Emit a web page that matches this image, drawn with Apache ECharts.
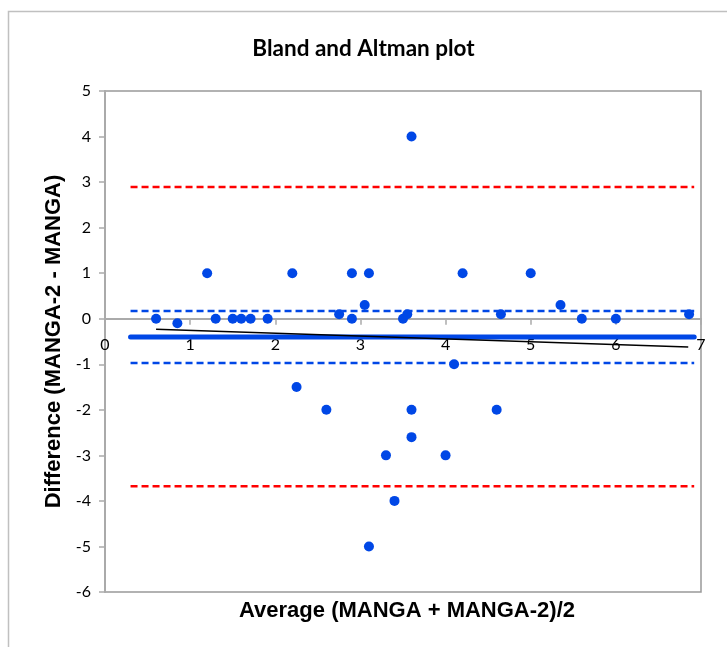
<!DOCTYPE html>
<html><head><meta charset="utf-8">
<script src="https://cdn.jsdelivr.net/npm/echarts@6/dist/echarts.min.js"></script>
<style>html,body{margin:0;padding:0;background:#fff}#c{width:727px;height:647px}</style>
</head><body><div id="c"></div>
<script>
// Data
const avgValues  = [0.6, 0.85, 1.2, 1.3, 1.5, 1.6, 1.71, 1.91, 2.2, 2.25, 2.6, 2.75, 2.9, 2.9, 3.05, 3.1, 3.1, 3.3, 3.4, 3.5, 3.55, 3.6, 3.6, 3.6, 4.0, 4.1, 4.2, 4.6, 4.65, 5.0, 5.35, 5.6, 6.0, 6.86];
const diffValues = [0, -0.1, 1, 0, 0, 0, 0, 0, 1, -1.5, -2, 0.1, 0, 1, 0.3, 1, -5, -3, -4, 0, 0.1, 4, -2, -2.6, -3, -1, 1, -2, 0.1, 1, 0.3, 0, 0, 0.1];
const lineXRange = [0.3, 6.92];
const meanDiff = -0.4;
const upperLoA = 2.89;
const lowerLoA = -3.68;
const upperCI = 0.17;
const lowerCI = -0.97;
const regressionX = [0.6, 6.85];
const regressionY = [-0.23, -0.62];
const xTicks = [0, 1, 2, 3, 4, 5, 6, 7];
const yTicks = [-6, -5, -4, -3, -2, -1, 0, 1, 2, 3, 4, 5];

const blue = '#0047e6';
const red = '#ff0000';
const hline = v => lineXRange.map(x => [x, v]);

const gridTop = 91, gridBottom = 55, H = 647;
const plotH = H - gridTop - gridBottom;
const yMin = yTicks[0], yMax = yTicks[yTicks.length - 1];
// distance from the bottom of the plot to the y=0 level, so the x axis sits at zero
const zeroOffset = -plotH * (0 - yMin) / (yMax - yMin);

const chart = echarts.init(document.getElementById('c'));
chart.setOption({
  animation: false,
  backgroundColor: '#fff',
  graphic: [{
    type: 'rect', left: 6, top: 9, shape: {x: 0, y: 0, width: 800, height: 700},
    style: {fill: 'none', stroke: '#c0c0c0', lineWidth: 1.5}, z: -10
  }],
  title: [{
    text: 'Bland and Altman plot', left: 'center', top: 32,
    textStyle: {fontFamily: 'Lato', fontWeight: 'bold', fontSize: 22.5, color: '#000'}
  }, {
    text: 'Average (MANGA + MANGA-2)/2', left: 402, textAlign: 'center', top: 595,
    textStyle: {fontFamily: 'Liberation Sans', fontWeight: 'bold', fontSize: 22, color: '#000'}
  }],
  grid: {left: 105, right: 26, top: gridTop, bottom: gridBottom, show: true, borderColor: '#999', borderWidth: 1.5, backgroundColor: 'transparent'},
  xAxis: {
    type: 'value', min: xTicks[0], max: xTicks[xTicks.length - 1], interval: 1,
    offset: zeroOffset,
    axisLine: {onZero: false, lineStyle: {color: '#aaa', width: 2}},
    axisTick: {show: true, length: 6, lineStyle: {color: '#aaa', width: 1.5}},
    axisLabel: {fontFamily: 'Lato', fontSize: 16, color: '#000', margin: 18, showMinLabel: true, showMaxLabel: true},
    splitLine: {show: false}
  },
  yAxis: {
    type: 'value', min: yMin, max: yMax, interval: 1,
    name: 'Difference (MANGA-2 - MANGA)', nameLocation: 'middle', nameGap: 38,
    nameTextStyle: {fontFamily: 'Liberation Sans', fontWeight: 'bold', fontSize: 22, color: '#000'},
    axisLine: {show: true, lineStyle: {color: '#aaa', width: 2}},
    axisTick: {show: true, length: 6, lineStyle: {color: '#aaa', width: 1.5}},
    axisLabel: {fontFamily: 'Lato', fontSize: 16, color: '#000', margin: 14},
    splitLine: {show: false}
  },
  series: [
    {type: 'line', data: hline(upperLoA), symbol: 'none', lineStyle: {color: red, width: 2.5, type: [7, 4]}, z: 2},
    {type: 'line', data: hline(lowerLoA), symbol: 'none', lineStyle: {color: red, width: 2.5, type: [7, 4]}, z: 2},
    {type: 'line', data: hline(upperCI), symbol: 'none', lineStyle: {color: blue, width: 2.5, type: [7, 4]}, z: 2},
    {type: 'line', data: hline(lowerCI), symbol: 'none', lineStyle: {color: blue, width: 2.5, type: [7, 4]}, z: 2},
    {type: 'line', data: hline(meanDiff), symbol: 'none', lineStyle: {color: blue, width: 5, cap: 'round'}, z: 3},
    {type: 'line', data: regressionX.map((x, i) => [x, regressionY[i]]), symbol: 'none', lineStyle: {color: '#000', width: 1.5}, z: 4},
    {type: 'scatter', data: avgValues.map((x, i) => [x, diffValues[i]]), symbolSize: 10, itemStyle: {color: blue, opacity: 1}, z: 5}
  ]
});
</script></body></html>
